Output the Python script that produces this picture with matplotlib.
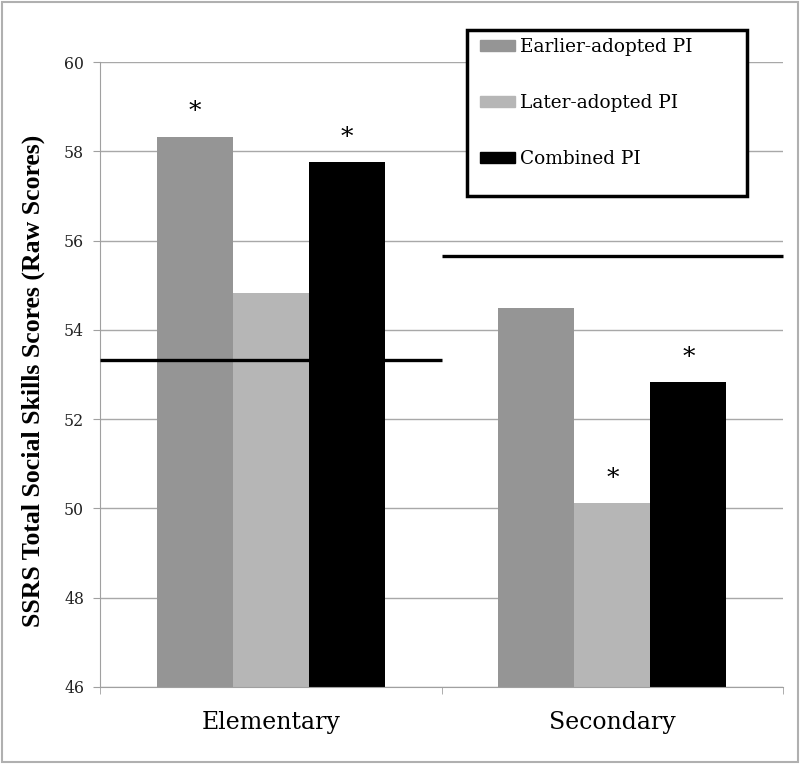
import matplotlib
matplotlib.use("Agg")
import matplotlib.pyplot as plt
from matplotlib.patches import Rectangle, Patch
import numpy as np

# data
categories = ["Elementary", "Secondary"]
series_names = ["Earlier-adopted PI", "Later-adopted PI", "Combined PI"]
earlier = [58.33, 54.50]
later = [54.83, 50.12]
combined = [57.76, 52.83]
# reference line per school level
reference = [53.33, 55.65]
# which bars carry an asterisk
star_earlier = [True, False]
star_later = [False, True]
star_combined = [True, True]

colors = ["#959595", "#b6b6b6", "#000000"]
serif = "DejaVu Serif"

fig = plt.figure(figsize=(8, 7.64), dpi=100)
ax = fig.add_axes([0.125, 0.1008, 0.854, 0.818])

x = np.arange(len(categories))
width = 0.2225
series = [earlier, later, combined]
stars = [star_earlier, star_later, star_combined]

for i, (vals, col, flags) in enumerate(zip(series, colors, stars)):
    pos = x + (i - 1) * width
    ax.bar(pos, np.array(vals) - 46, width=width, bottom=46, color=col,
           zorder=2)
    for p, v, f in zip(pos, vals, flags):
        if f:
            ax.text(p, v + 0.56, "*", ha="center", va="center",
                    fontsize=18, family=serif, zorder=3)

# reference lines
ax.hlines(reference, x - 0.5, x + 0.5, colors="black", linewidth=2.4,
          zorder=3, clip_on=False)

ax.set_xlim(-0.5, 1.5)
ax.set_ylim(46, 60)
ax.set_yticks(np.arange(46, 61, 2))
ax.yaxis.grid(True, color="#a8a8a8", linewidth=1)
ax.set_axisbelow(True)

ax.set_xticks(x)
ax.set_xticklabels(categories, family=serif, fontsize=17)
ax.set_xticks([-0.5, 0.5, 1.5], minor=True)
ax.tick_params(axis="x", which="major", length=0, pad=17)
ax.tick_params(axis="x", which="minor", length=5, color="#a0a0a0")
ax.tick_params(axis="y", length=5, color="#a0a0a0", pad=6.5,
               labelsize=11.3, labelcolor="#222222")
for lab in ax.get_yticklabels():
    lab.set_family(serif)

for s in ["top", "right"]:
    ax.spines[s].set_visible(False)
for s in ["left", "bottom"]:
    ax.spines[s].set_color("#a0a0a0")

ax.set_ylabel("SSRS Total Social Skills Scores (Raw Scores)",
              family="Liberation Serif", fontweight="bold", fontsize=18.5)
ax.yaxis.set_label_coords(-0.08, 0.49)

# legend box
fig.add_artist(Rectangle((467 / 800, 1 - 196 / 764), 280 / 800, 166 / 764,
                         transform=fig.transFigure, facecolor="white",
                         edgecolor="black", linewidth=2.5, zorder=3))
handles = [Patch(color=c) for c in colors]
leg = fig.legend(handles, series_names, loc="upper left",
                 bbox_to_anchor=(480 / 800, 1 - 38 / 764),
                 frameon=False, borderpad=0, borderaxespad=0,
                 handlelength=1.9, handleheight=0.55, handletextpad=0.27,
                 labelspacing=2.05, prop={"family": serif, "size": 13.3})
leg.set_zorder(5)

# figure border
fig.add_artist(Rectangle((0.002, 0.002), 0.996, 0.996,
                         transform=fig.transFigure, fill=False,
                         edgecolor="#b0b0b0", linewidth=1.5))

fig.savefig("out.png", dpi=100)
